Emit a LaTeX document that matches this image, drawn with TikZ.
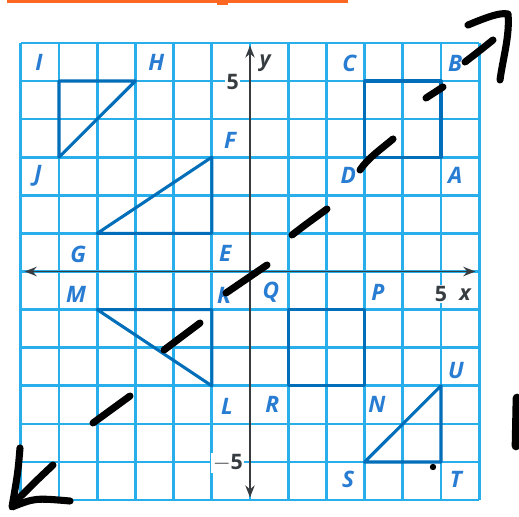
\documentclass[tikz,border=0pt]{standalone}
\usepackage{fontspec}
\setmainfont{Open Sans}
\usetikzlibrary{arrows.meta}
\definecolor{gridblue}{RGB}{40,175,235}
\definecolor{shapeblue}{RGB}{0,110,185}
\definecolor{labelblue}{RGB}{40,125,210}
\definecolor{axisgray}{RGB}{55,60,65}
\definecolor{barorange}{RGB}{252,104,34}
\tikzset{
  gridline/.style={draw=gridblue, line width=2pt},
  figline/.style={draw=shapeblue, line width=2.3pt, line join=round, line cap=round},
  axisline/.style={draw=axisgray, line width=1.3pt, {Stealth[length=9pt,width=7pt]}-{Stealth[length=9pt,width=7pt]}},
  lbl/.style={text=labelblue, font=\fontsize{17}{18}\selectfont\bfseries\itshape, inner sep=0pt},
  numlbl/.style={text=axisgray, font=\fontsize{16}{17}\selectfont\bfseries, fill=white, inner sep=1pt},
  axlbl/.style={text=axisgray, font=\fontsize{16}{17}\selectfont\bfseries\itshape, inner sep=0pt},
  ink/.style={draw=black, line width=5.3pt, line cap=round, line join=round},
}
\begin{document}
\begin{tikzpicture}[x=0.75pt, y=-0.75pt]
\useasboundingbox (0,0) rectangle (519,517);
\fill[white] (0,0) rectangle (519,517);
% orange bar
\fill[barorange] (7,0) rectangle (348,3.5);
\fill[barorange] (217,0) rectangle (228,5);
\begin{scope}[shift={(187.5pt,-203.625pt)}, x=28.65pt, y=28.575pt]
  % grid
  \foreach \i in {-6,...,6} {
    \draw[gridline] (\i,-6) -- (\i,6);
    \draw[gridline] (-6,\i) -- (6,\i);
  }
  % axes
  \coordinate (xl) at (-5.9,0); \coordinate (xr) at (5.9,0);
  \coordinate (yb) at (0,-5.93); \coordinate (yt) at (0,5.93);
  % numbers
  \node[numlbl] (n5y) at (-0.45,4.97) {5};
  \node[numlbl] (nm5y) at (-0.58,-5.03) {$-$5};
  \node[numlbl] (n5x) at (5.0,-0.6) {5};
  \draw[axisline] (xl) -- (xr);
  \draw[axisline] (yb) -- (yt);
  \node[axlbl] (lx) at (5.63,-0.62) {x};
  \node[axlbl] (ly) at (0.4,5.47) {y};
  % vertices
  \coordinate (vI) at (-5,5); \coordinate (vH) at (-3,5); \coordinate (vJ) at (-5,3);
  \coordinate (vE) at (-1,1); \coordinate (vF) at (-1,3); \coordinate (vG) at (-4,1);
  \coordinate (vC) at (3,5); \coordinate (vB) at (5,5); \coordinate (vA) at (5,3); \coordinate (vD) at (3,3);
  \coordinate (vM) at (-4,-1); \coordinate (vK) at (-1,-1); \coordinate (vL) at (-1,-3);
  \coordinate (vQ) at (1,-1); \coordinate (vP) at (3,-1); \coordinate (vN) at (3,-3); \coordinate (vR) at (1,-3);
  \coordinate (vS) at (3,-5); \coordinate (vT) at (5,-5); \coordinate (vU) at (5,-3);
  % figures
  \draw[figline] (vI) -- (vH) -- (vJ) -- cycle;
  \draw[figline] (vE) -- (vF) -- (vG) -- cycle;
  \draw[figline] (vC) -- (vB) -- (vA) -- (vD) -- cycle;
  \draw[figline] (vM) -- (vK) -- (vL) -- cycle;
  \draw[figline] (vQ) -- (vP) -- (vN) -- (vR) -- cycle;
  \draw[figline] (vS) -- (vT) -- (vU) -- cycle;
  % labels
  \node[lbl] (lI) at (-5.52,5.5) {I};
  \node[lbl] (lH) at (-2.45,5.5) {H};
  \node[lbl] (lJ) at (-5.55,2.5) {J};
  \node[lbl] (lF) at (-0.52,3.45) {F};
  \node[lbl] (lG) at (-4.5,0.45) {G};
  \node[lbl] (lE) at (-0.65,0.47) {E};
  \node[lbl] (lC) at (2.6,5.45) {C};
  \node[lbl] (lB) at (5.37,5.45) {B};
  \node[lbl] (lD) at (2.57,2.53) {D};
  \node[lbl] (lA) at (5.37,2.53) {A};
  \node[lbl] (lM) at (-4.55,-0.6) {M};
  \node[lbl] (lK) at (-0.68,-0.62) {K};
  \node[lbl] (lL) at (-0.6,-3.55) {L};
  \node[lbl] (lQ) at (0.55,-0.55) {Q};
  \node[lbl] (lP) at (3.35,-0.55) {P};
  \node[lbl] (lR) at (0.58,-3.5) {R};
  \node[lbl] (lN) at (3.32,-3.5) {N};
  \node[lbl] (lU) at (5.39,-2.6) {U};
  \node[lbl] (lS) at (2.57,-5.45) {S};
  \node[lbl] (lT) at (5.39,-5.45) {T};
\end{scope}
% hand-drawn ink
\draw[ink] (465,62) .. controls (478,52) .. (493,40);
\draw[ink] (426,98) -- (443,87);
\draw[ink] (360,170) .. controls (368,158) and (380,150) .. (393,139);
\draw[ink] (292,235) .. controls (305,225) .. (327,209);
\draw[ink] (226,293) -- (267,265);
\draw[ink] (164,350) -- (200,323);
\draw[ink] (93,423) -- (130,396);
\draw[ink] (53,465) .. controls (35,482) .. (14,503);
\draw[ink] (468,25) .. controls (485,18) and (500,12) .. (508,14) .. controls (510,35) and (503,58) .. (500,80);
\draw[ink] (20,448) .. controls (18,472) .. (12,507) .. controls (35,498) .. (70,501);
\draw[ink, line width=6.5pt] (517,398) -- (516,446);
\fill[black] (433,467) circle (3.2);
\end{tikzpicture}
\end{document}
